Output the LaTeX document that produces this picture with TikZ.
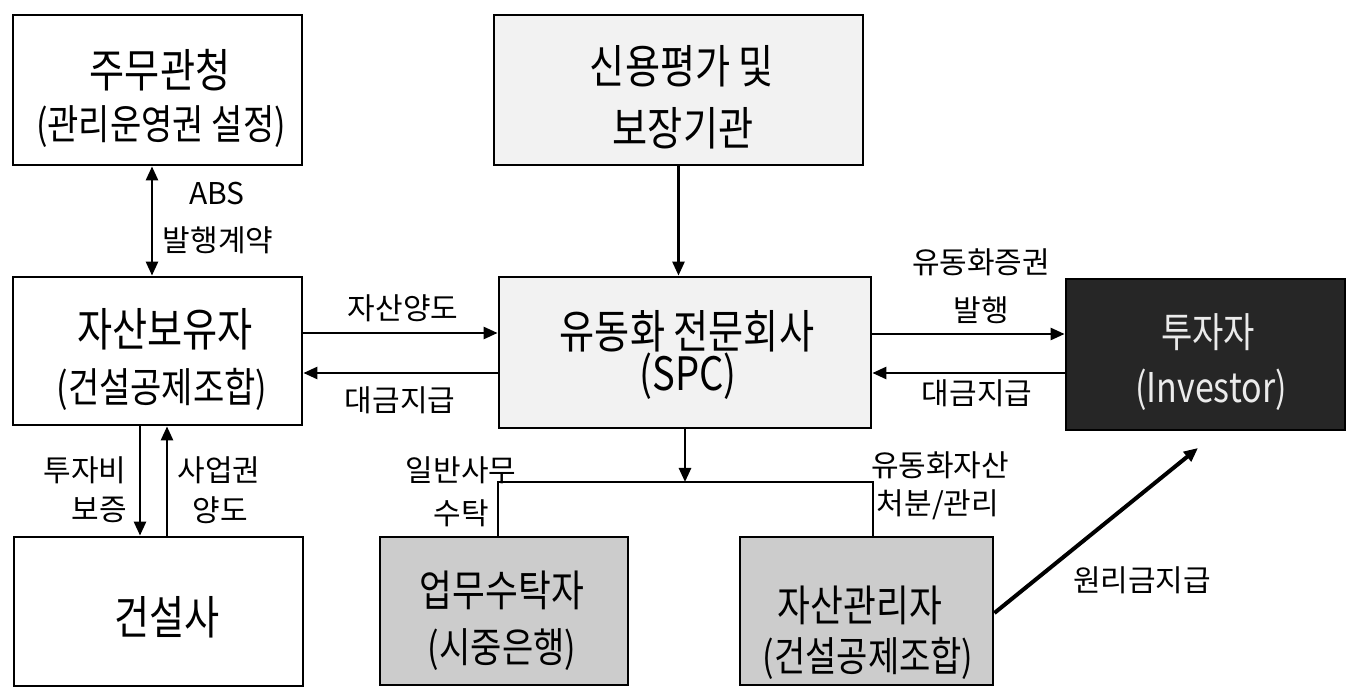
\documentclass[tikz,border=0pt]{standalone}
\usepackage{fontspec}
\usetikzlibrary{arrows.meta,calc}
\newfontfamily\kr{Noto Sans CJK KR}
\newfontfamily\krw[FakeStretch=0.83]{Noto Sans CJK KR}
\tikzset{
  box/.style={draw, line width=1.4pt, rectangle, inner sep=0pt},
  lightbox/.style={box, fill=black!5},
  graybox/.style={box, fill=black!20},
  darkbox/.style={box, fill=black!85},
  ttl/.style={inner sep=0pt, font=\krw\fontsize{23}{23}\selectfont},
  ttm/.style={inner sep=0pt, font=\krw\fontsize{21.5}{21.5}\selectfont},
  sub/.style={inner sep=0pt, font=\krw\fontsize{20.5}{20.5}\selectfont},
  lab/.style={inner sep=0pt, font=\kr\fontsize{15}{15}\selectfont},
  conn/.style={line width=1.3pt},
  arr/.style={conn, -{Triangle[length=7pt,width=6pt]}},
  darr/.style={conn, {Triangle[length=7pt,width=6pt]}-{Triangle[length=7pt,width=6pt]}}
}
\begin{document}
\begin{tikzpicture}[x=0.5pt,y=-0.5pt]
\useasboundingbox (0,0) rectangle (1350,689);
% boxes
\node[box, minimum width=144.5pt, minimum height=75pt] (b1) at (157.5,90) {};
\node[lightbox, minimum width=184.5pt, minimum height=75pt] (b2) at (678.5,90) {};
\node[box, minimum width=144.5pt, minimum height=74pt] (b3) at (157.5,351) {};
\node[lightbox, minimum width=186pt, minimum height=75.5pt] (b4) at (685,352.5) {};
\node[darkbox, minimum width=139.5pt, minimum height=75.5pt] (b5) at (1205.5,354.5) {};
\node[box, minimum width=144.5pt, minimum height=74.5pt] (b6) at (158.5,611.5) {};
\node[graybox, minimum width=124pt, minimum height=74pt] (b7) at (504,611) {};
\node[graybox, minimum width=126.5pt, minimum height=74pt] (b8) at (866.5,611) {};
% box texts
\node[ttl] (t1a) at (160,70) {주무관청};
\node[sub] (t1b) at (161,127) {(관리운영권 설정)};
\node[ttl] (t2a) at (682,66) {신용평가 및};
\node[ttl] (t2b) at (683,128) {보장기관};
\node[ttl] (t3a) at (165,329) {자산보유자};
\node[sub] (t3b) at (162,389) {(건설공제조합)};
\node[ttl] (t4a) at (687,331) {유동화 전문회사};
\node[ttl] (t4b) at (688,376) {(SPC)};
\node[sub, text=black!8] (t5a) at (1208,332) {투자자};
\node[sub, text=black!8] (t5b) at (1211,390) {(Investor)};
\node[ttl] (t6) at (167,617) {건설사};
\node[ttm] (t7a) at (502,590) {업무수탁자};
\node[sub] (t7b) at (502,650) {(시중은행)};
\node[ttm] (t8a) at (860,605) {자산관리자};
\node[sub] (t8b) at (868,658) {(건설공제조합)};
% connector coordinates
\coordinate (a1) at ($(b3.east)+(0,-18)$);
\coordinate (a2) at ($(b4.west)+(0,20.5)$);
\coordinate (a3) at ($(b4.east)+(0,-18.5)$);
\coordinate (a4) at ($(b4.east)+(0,20.5)$);
\coordinate (jc) at (685,482);
\coordinate (jl) at (498,482);
\coordinate (jr) at (873,482);
\coordinate (rt) at (1198,448);
% connectors
\draw[darr] ($(b1.south)+(-5.5,0)$) -- ($(b3.north)+(-5.5,0)$);
\draw[arr] (b2.south) -- (b2.south |- b4.north);
\draw[arr] (a1) -- (a1 -| b4.west);
\draw[arr] (a2) -- (a2 -| b3.east);
\draw[arr] (a3) -- (a3 -| b5.west);
\draw[arr] (a4 -| b5.west) -- (a4);
\draw[arr] ($(b3.south)+(-17.5,0)$) -- ($(b6.north)+(-18.5,0)$);
\draw[arr] ($(b6.north)+(8.5,0)$) -- ($(b3.south)+(9.5,0)$);
\draw[arr] (b4.south) -- (jc);
\draw[conn] (jl |- b7.north) -- (jl) -- (jr) -- (jr |- b8.north);
\draw[arr, line width=2pt] ($(b8.east)+(0,2)$) -- (rt);
% labels
\node[lab] (l1) at (217,194) {ABS};
\node[lab] (l2) at (218,240) {발행계약};
\node[lab] (l3) at (403,308) {자산양도};
\node[lab] (l4) at (400,400) {대금지급};
\node[lab] (l5) at (981,262) {유동화증권};
\node[lab] (l6) at (981,310) {발행};
\node[lab] (l7) at (977,393) {대금지급};
\node[lab, anchor=east] (l8) at (127,470) {투자비};
\node[lab, anchor=east] (l9) at (127,510) {보증};
\node[lab] (l10) at (219,470) {사업권};
\node[lab] (l11) at (220,510) {양도};
\node[lab] (l12) at (461,470) {일반사무};
\node[lab] (l13) at (461,513) {수탁};
\node[lab] (l14) at (940,465) {유동화자산};
\node[lab] (l15) at (938,505) {처분/관리};
\node[lab] (l16) at (1142,580) {원리금지급};
\end{tikzpicture}
\end{document}
